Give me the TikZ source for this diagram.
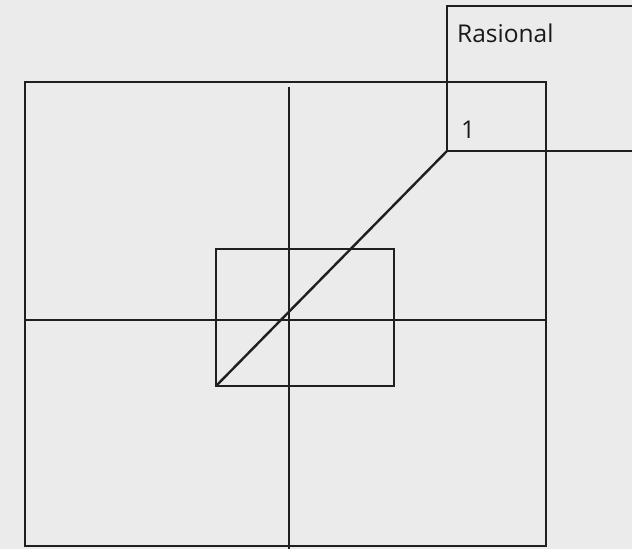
\documentclass[tikz,border=0pt]{standalone}
\usepackage{fontspec}
\setmainfont{Open Sans}

\begin{document}
\begin{tikzpicture}[x=1pt,y=-1pt,
    every node/.style={font=\fontsize{24.5}{28}\selectfont, inner sep=0pt, text=black!90},
    garis/.style={draw=black!88, line width=2.4pt}]

% ==== kertas (latar) ====
\fill[black!8] (0,0) rectangle (632,549);
\clip (0,0) rectangle (632,549);

% ==== kotak besar + garis silang ====
\draw[garis] (25,82) rectangle (546,546);
\coordinate (atas)  at (289,87);
\coordinate (bawah) at (289,549);
\coordinate (kiri)  at (25,320);
\coordinate (kanan) at (546,320);
\draw[garis] (atas) -- (bawah);
\draw[garis] (kiri) -- (kanan);

% ==== kotak kecil di tengah ====
\draw[garis] (216,249) rectangle (394,386);
\coordinate (tengahKB) at (216,386);

% ==== kotak Rasional (terpotong di kanan) ====
\draw[garis] (640,6) -- (447,6) -- (447,151) -- (640,151);
\coordinate (rasKB) at (447,151);
\node[anchor=west] (rasional) at (457,33) {Rasional};
\node[anchor=west] (satu) at (461,130) {1};

% ==== garis diagonal ====
\draw[garis] (tengahKB) -- (rasKB);

\end{tikzpicture}
\end{document}
